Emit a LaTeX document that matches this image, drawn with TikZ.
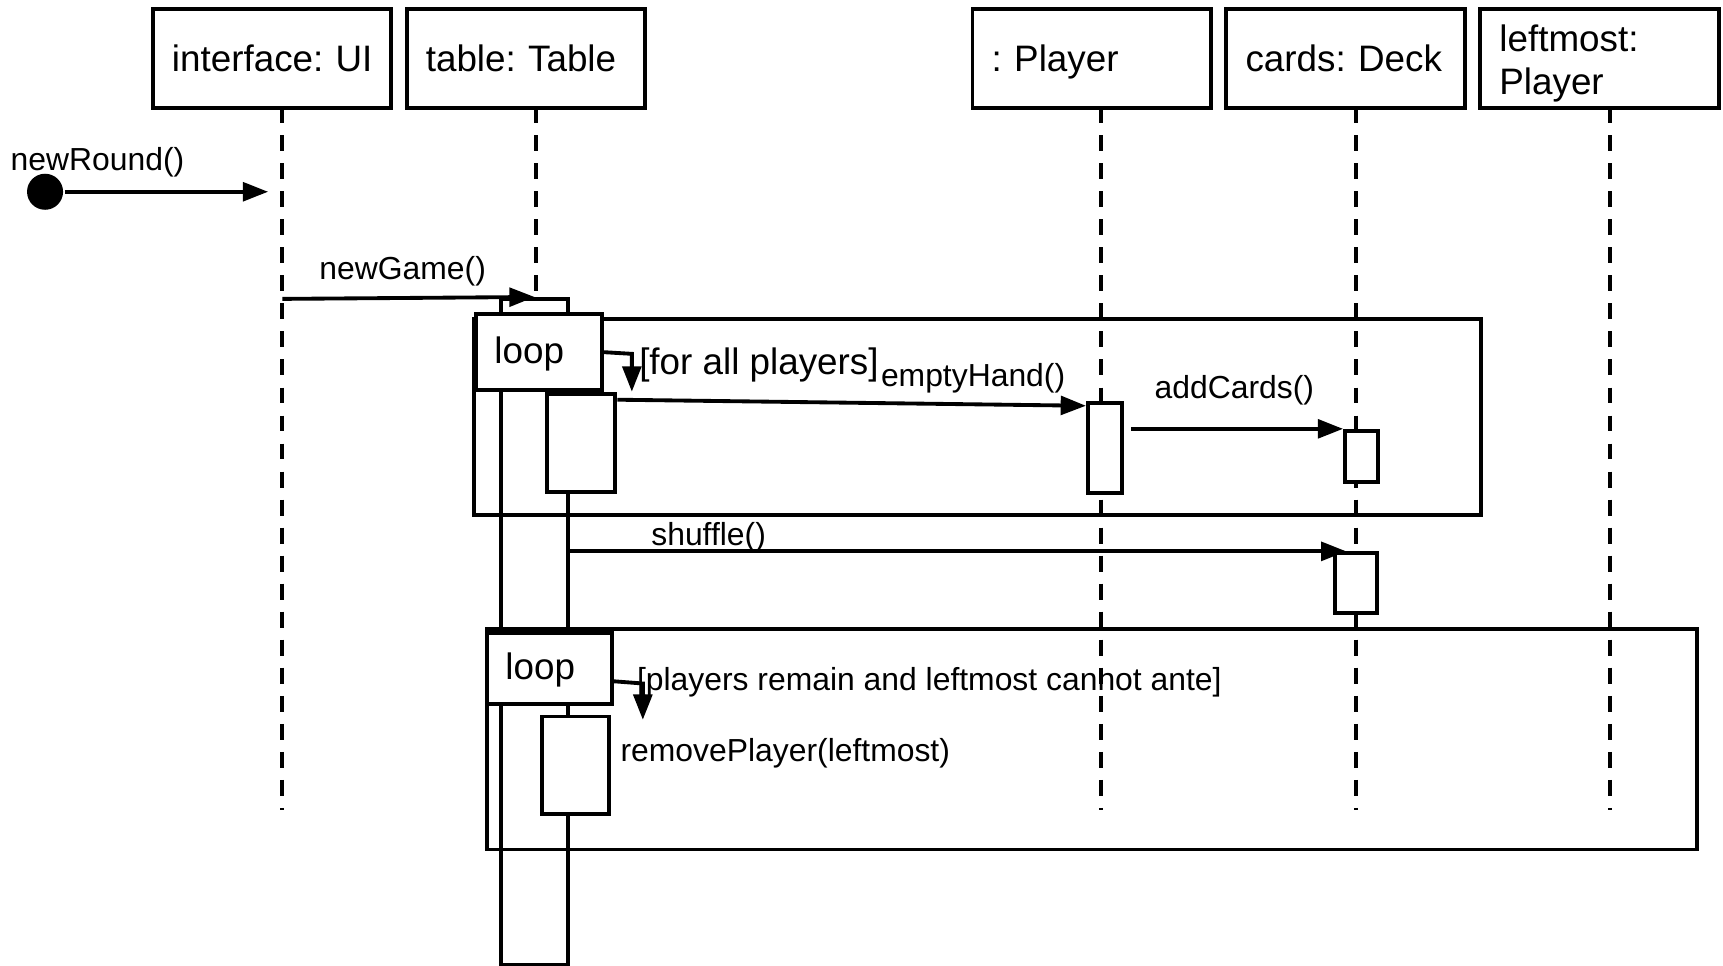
\documentclass[tikz,border=0pt]{standalone}
\usepackage{fontspec}
\setmainfont{Liberation Sans}
\usetikzlibrary{arrows.meta}
\newcommand\hdrfont{\fontsize{33.5}{39}\selectfont\frenchspacing}
\newcommand\msgfont{\fontsize{29}{34}\selectfont\frenchspacing}
\begin{document}
\begin{tikzpicture}[x=1pt,y=-1pt,line width=3.5pt,
  hdr/.style={draw, fill=white, minimum width=217pt, minimum height=90pt, text width=182pt, inner xsep=17.5pt, inner ysep=0pt, align=left, font=\hdrfont, text height=24pt, text depth=0pt},
  lifeline/.style={dash pattern=on 14.5pt off 11pt, dash phase=2.1pt},
  actbox/.style={draw, fill=white, inner sep=0pt},
  loopframe/.style={draw, inner sep=0pt},
  looplab/.style={draw, fill=white, inner xsep=17pt, inner ysep=0pt, align=left, font=\hdrfont, text height=24pt, text depth=4pt},
  msgarrow/.style={-{Triangle[length=23pt,width=17pt]}},
  msgtext/.style={anchor=base west, inner sep=0pt, font=\msgfont},
  guardtext/.style={anchor=base west, inner sep=0pt, font=\hdrfont},
]
\useasboundingbox (0,0) rectangle (1568,879);
% headers
\node[hdr] (ui) at (247.5,53) {\mbox{interface: UI}};
\node[hdr] (tb) at (478.5,53) {\mbox{table: Table}};
\node[hdr] (pl) at (993.5,53) {\mbox{: Player}};
\node[hdr] (dk) at (1224.5,53) {\mbox{cards: Deck}};
\node[hdr, text height=24pt, text depth=36pt] (lm) at (1455.5,53) {leftmost:\\Player};
% lifeline ends
\coordinate (uiE) at (257,737);
\coordinate (tbE) at (488,737);
\coordinate (plE) at (1002,737);
\coordinate (dkE) at (1234,737);
\coordinate (lmE) at (1465,737);
\draw[lifeline] (uiE |- ui.south) -- (uiE);
\draw[lifeline] (tbE |- tb.south) -- (tbE);
\draw[lifeline] (plE |- pl.south) -- (plE);
\draw[lifeline] (dkE |- dk.south) -- (dkE);
\draw[lifeline] (lmE |- lm.south) -- (lmE);
% table activation bar
\node[actbox, minimum width=61pt, minimum height=606pt] (bar) at (486.5,575) {};
% loop frames
\node[loopframe, minimum width=917pt, minimum height=178.7pt] (loop1) at (889.5,379.35) {};
\node[loopframe, minimum width=1101pt, minimum height=200.3pt] (loop2) at (993.5,672.85) {};
\node[looplab, text width=81pt, minimum height=69pt] (lab1) at (490.5,320.5) {loop};
\node[looplab, text width=80pt, minimum height=64.2pt] (lab2) at (500,608.5) {loop};
% activations
\node[actbox, minimum width=62pt, minimum height=89.5pt] (act1) at (529,403.25) {};
\node[actbox, minimum width=31pt, minimum height=82pt] (pact) at (1005.5,408) {};
\node[actbox, minimum width=30pt, minimum height=46.5pt] (dact1) at (1239,415.25) {};
\node[actbox, minimum width=38pt, minimum height=54.5pt] (dact2) at (1234,530.75) {};
\node[actbox, minimum width=61.5pt, minimum height=89pt] (act2) at (523.75,696.5) {};
% newRound
\node[circle, fill, inner sep=0pt, minimum size=32.8pt] (start) at (41,174.5) {};
\coordinate (nrE) at (244,174.5);
\draw[msgarrow] (start) -- (nrE);
% newGame
\coordinate (ngS) at (257,272);
\draw[msgarrow] (ngS) -- (bar.north);
% loop guards
\coordinate (b1a) at (575,322);
\coordinate (b1b) at (575,356.4);
\draw[msgarrow] (lab1.east) -- (b1a) -- (b1b);
\coordinate (b2a) at (585,622);
\coordinate (b2b) at (585,655);
\draw[msgarrow] ([yshift=-11.5pt]lab2.east) -- (b2a) -- (b2b);
% messages
\draw[msgarrow] ([yshift=-7pt]act1.north east) -- ([yshift=-4pt]pact.north west);
\draw[msgarrow] ([xshift=6.6pt,yshift=-25pt]pact.north east) -- (dact1.north west);
\draw[msgarrow] (bar.east |- dact2.north) -- ([xshift=12pt]dact2.north west);
% texts
\node[msgtext] (t1) at (8,155) {newRound()};
\node[msgtext] (t2) at (289,254) {newGame()};
\node[guardtext] (g1) at (580,341) {[for all players]};
\node[msgtext] (t3) at (800,352) {emptyHand()};
\node[msgtext] (t4) at (1049,363) {addCards()};
\node[msgtext] (t5) at (591,496) {shuffle()};
\node[msgtext] (g2) at (578,628) {[players remain and leftmost cannot ante]};
\node[msgtext] (t6) at (563,693) {removePlayer(leftmost)};
\end{tikzpicture}
\end{document}
